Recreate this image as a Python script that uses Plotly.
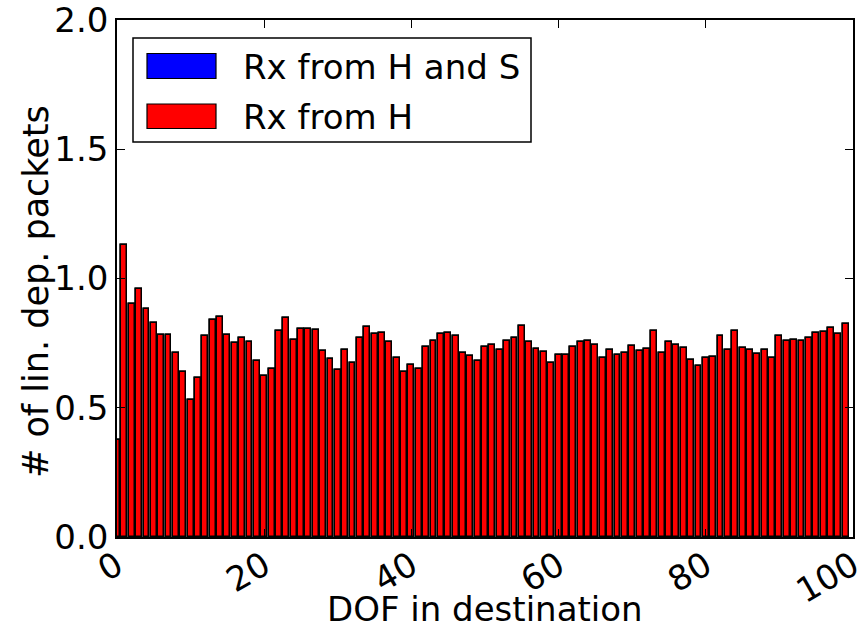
import plotly.graph_objects as go

# DOF in destination (0..99)
dof = list(range(100))

# Number of linearly dependent packets received from H
rx_from_h = [
    0.375, 1.13, 0.90, 0.958, 0.882, 0.829, 0.783, 0.783, 0.711, 0.638,
    0.529, 0.615, 0.778, 0.838, 0.850, 0.783, 0.751, 0.769, 0.756, 0.682,
    0.623, 0.650, 0.798, 0.846, 0.762, 0.805, 0.803, 0.800, 0.720, 0.687,
    0.646, 0.722, 0.673, 0.769, 0.814, 0.784, 0.789, 0.753, 0.691, 0.637,
    0.667, 0.650, 0.735, 0.758, 0.785, 0.789, 0.779, 0.712, 0.701, 0.681,
    0.736, 0.741, 0.722, 0.758, 0.769, 0.816, 0.756, 0.726, 0.717, 0.674,
    0.704, 0.703, 0.736, 0.756, 0.760, 0.743, 0.691, 0.723, 0.704, 0.713,
    0.738, 0.718, 0.727, 0.797, 0.712, 0.753, 0.744, 0.731, 0.686, 0.660,
    0.692, 0.698, 0.779, 0.723, 0.797, 0.730, 0.722, 0.708, 0.722, 0.691,
    0.776, 0.758, 0.761, 0.758, 0.769, 0.788, 0.793, 0.808, 0.784, 0.824,
]
# Received from H and S (hidden underneath the red bars)
rx_from_h_and_s = list(rx_from_h)

x_ticks = [0, 20, 40, 60, 80, 100]
y_ticks = [0.0, 0.5, 1.0, 1.5, 2.0]
series_names = ["Rx from H and S", "Rx from H"]
series_colors = ["#0000ff", "#ff0000"]
x_title = "DOF in destination"
y_title = "# of lin. dep. packets"

FONT = "DejaVu Sans"
FS = 34

fig = go.Figure()
fig.add_trace(go.Bar(x=dof, y=rx_from_h_and_s, width=0.8, name=series_names[0],
                     marker=dict(color=series_colors[0], line=dict(color="black", width=1.5)),
                     showlegend=False))
fig.add_trace(go.Bar(x=dof, y=rx_from_h, width=0.8, name=series_names[1],
                     marker=dict(color=series_colors[1], line=dict(color="black", width=1.5)),
                     showlegend=False))

# manual legend (matplotlib-style wide patches)
def px_x(p):
    return (p - 117) / 736.0
def px_y(p):
    return (537 - p) / 517.0

shapes = [
    dict(type="rect", xref="paper", yref="paper", x0=px_x(133), x1=px_x(531),
         y0=px_y(142), y1=px_y(38), line=dict(color="black", width=1.5), fillcolor="white"),
]
annotations = []
patch_rows = [(53.5, 78.5), (104, 128.5)]
for (top, bot), name, col in zip(patch_rows, series_names, series_colors):
    shapes.append(dict(type="rect", xref="paper", yref="paper", x0=px_x(147), x1=px_x(216),
                       y0=px_y(bot), y1=px_y(top), line=dict(color="black", width=1.2),
                       fillcolor=col))
    annotations.append(dict(xref="paper", yref="paper", x=px_x(241), y=px_y((top + bot) / 2 + 1),
                            xanchor="left", yanchor="middle", text=name, showarrow=False,
                            font=dict(family=FONT, size=FS, color="black")))

# axis titles
annotations.append(dict(xref="paper", yref="paper", x=0.5, y=px_y(609),
                        xanchor="center", yanchor="middle", text=x_title, showarrow=False,
                        font=dict(family=FONT, size=FS, color="black")))
annotations.append(dict(xref="paper", yref="paper", x=px_x(36), y=px_y(292),
                        xanchor="center", yanchor="middle", text=y_title, showarrow=False,
                        textangle=-90,
                        font=dict(family=FONT, size=35, color="black")))

fig.update_layout(
    width=864, height=639,
    margin=dict(l=117, r=11, t=20, b=102),
    paper_bgcolor="white", plot_bgcolor="white",
    barmode="overlay", bargap=0,
    font=dict(family=FONT, size=FS, color="black"),
    shapes=shapes, annotations=annotations,
    xaxis=dict(range=[0, 100], tickvals=x_ticks, ticktext=[str(v) for v in x_ticks],
               tickangle=-30, ticks="inside", ticklen=8, tickcolor="black",
               ticklabeloverflow="allow", ticklabelstandoff=-6,
               showline=True, linecolor="black", linewidth=1.5, mirror="ticks",
               showgrid=False, zeroline=False, automargin=False,
               tickfont=dict(family=FONT, size=FS)),
    yaxis=dict(range=[0, 2.0], tickvals=y_ticks, ticktext=["%.1f" % v for v in y_ticks],
               ticks="inside", ticklen=8, tickcolor="black",
               ticklabeloverflow="allow",
               showline=True, linecolor="black", linewidth=1.5, mirror="ticks",
               showgrid=False, zeroline=False, automargin=False,
               tickfont=dict(family=FONT, size=FS)),
)

fig.write_html("out.html")
